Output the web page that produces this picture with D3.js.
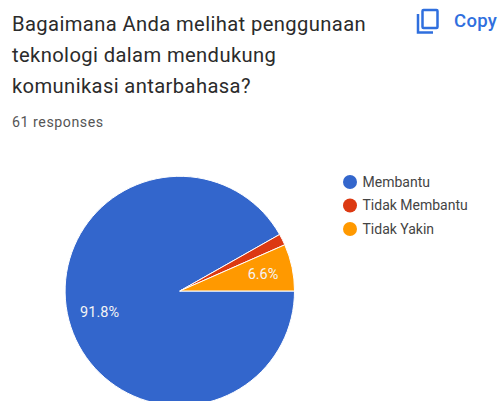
<!DOCTYPE html>
<html>
<head>
<meta charset="utf-8">
<script src="https://cdn.jsdelivr.net/npm/d3@7"></script>
<style>
html,body{margin:0;padding:0;background:#fff;overflow:hidden}
svg{display:block}
text{font-family:Roboto,sans-serif}
</style>
</head>
<body>
<svg id="chart" width="499" height="401"></svg>
<script>
const categories = ["Membantu", "Tidak Membantu", "Tidak Yakin"];
const values = [91.8, 1.6, 6.6];
const colors = ["#3366cc", "#dc3912", "#ff9900"];
const valueLabels = ["91.8%", null, "6.6%"];
const titleLines = ["Bagaimana Anda melihat penggunaan", "teknologi dalam mendukung", "komunikasi antarbahasa?"];
const responses = "61 responses";

const svg = d3.select("#chart");

// Question heading
svg.selectAll("text.title").data(titleLines).join("text")
  .attr("class", "title")
  .attr("x", 12)
  .attr("y", (d, i) => 31 + i * 31)
  .attr("font-size", 20.2)
  .attr("letter-spacing", 0.38)
  .attr("fill", "#2b2b2b")
  .text(d => d);

svg.append("text")
  .attr("x", 12).attr("y", 127)
  .attr("font-size", 14.2)
  .attr("letter-spacing", 0.55)
  .attr("fill", "#555")
  .text(responses);

// Copy button
const copy = svg.append("g").attr("fill", "none").attr("stroke", "#2f6fde").attr("stroke-width", 2.5);
copy.append("rect").attr("x", 422.5).attr("y", 10).attr("width", 15).attr("height", 18).attr("rx", 1);
copy.append("path").attr("d", "M418 14V32.5H433");
svg.append("text")
  .attr("x", 454).attr("y", 26.5)
  .attr("font-size", 18.5)
  .attr("font-weight", 500)
  .attr("letter-spacing", 0.3)
  .attr("fill", "#2f6fde")
  .text("Copy");

// Pie, clockwise from three o'clock
const cx = 179.8, cy = 291, radius = 114.7;
const pie = d3.pie().sort(null).value(d => d)
  .startAngle(Math.PI / 2)
  .endAngle(Math.PI / 2 + 2 * Math.PI);
const arc = d3.arc().innerRadius(0).outerRadius(radius);
const labelArc = d3.arc().innerRadius(84).outerRadius(84);
const arcs = pie(values);

const g = svg.append("g").attr("transform", `translate(${cx},${cy})`);
g.selectAll("path").data(arcs).join("path")
  .attr("d", arc)
  .attr("fill", (d, i) => colors[i])
  .attr("stroke", "#fff")
  .attr("stroke-width", 1);

g.selectAll("text").data(arcs.filter((d, i) => valueLabels[i])).join("text")
  .attr("transform", d => `translate(${labelArc.centroid(d)})`)
  .attr("text-anchor", "middle")
  .attr("dx", 1)
  .attr("dy", "0.35em")
  .attr("font-size", 14.5)
  .attr("fill", "#f4f4f4")
  .text(d => valueLabels[d.index]);

// Legend
const legendY = d3.scalePoint().domain(categories).range([182, 229]);
const legend = svg.selectAll("g.legend").data(categories).join("g")
  .attr("class", "legend")
  .attr("transform", d => `translate(350,${legendY(d)})`);
legend.append("circle").attr("r", 7).attr("fill", (d, i) => colors[i]);
legend.append("text")
  .attr("x", 12.5).attr("dy", "0.35em")
  .attr("font-size", 14)
  .attr("fill", "#444")
  .text(d => d);
</script>
</body>
</html>
